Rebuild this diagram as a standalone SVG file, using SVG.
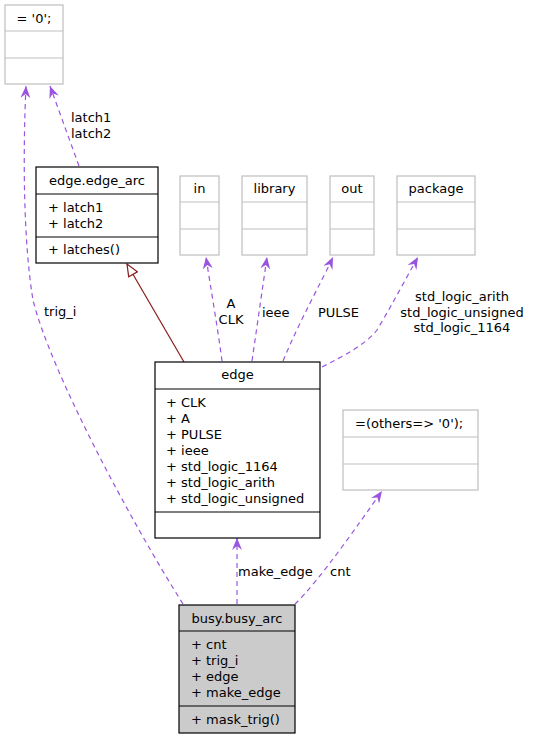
<svg xmlns="http://www.w3.org/2000/svg" width="533" height="741" viewBox="0 0 533 741">
<defs>
<style>
text{font-family:"DejaVu Sans","Liberation Sans",sans-serif;font-size:13px;fill:#000}
.c{text-anchor:middle}
.bk{fill:#fff;stroke:#000;stroke-width:1.2}
.gr{fill:#fff;stroke:#bfbfbf;stroke-width:1.2}
.gy{fill:#cbcbcb;stroke:#000;stroke-width:1.2}
.dk{stroke:#000;stroke-width:1.2}
.lg{stroke:#bfbfbf;stroke-width:1.2}
.u{fill:none;stroke:#9a55de;stroke-width:1.2;stroke-dasharray:5,4;marker-end:url(#av)}
.inh{fill:none;stroke:#8b1a1a;stroke-width:1.2;marker-end:url(#tri)}
</style>
<marker id="av" viewBox="0 0 12 10" refX="12" refY="5" markerWidth="12" markerHeight="10" markerUnits="userSpaceOnUse" orient="auto">
<path d="M0,0 L12,5 L0,10 L4,5 z" fill="#9a55de"/>
</marker>
<marker id="tri" viewBox="0 0 14 12" refX="13" refY="6" markerWidth="14" markerHeight="12" markerUnits="userSpaceOnUse" orient="auto">
<path d="M1,1 L13,6 L1,11 z" fill="#fff" stroke="#8b1a1a" stroke-width="1.2"/>
</marker>
</defs>

<g id="connectors">
<path class="u" d="M183,604 C130,520 50,370 33,300 C23,240 23,150 26,86"/>
<text x="44" y="316">trig_i</text>
<path class="u" d="M79,166 L50,86"/>
<text x="71" y="122">latch1</text>
<text x="71" y="138">latch2</text>
<path class="inh" d="M184,362 L127,264"/>
<path class="u" d="M222,361 C218,330 211,290 206,257"/>
<text class="c" x="231" y="308">A</text>
<text class="c" x="231" y="324">CLK</text>
<path class="u" d="M252,361 L267,257"/>
<text x="262" y="317">ieee</text>
<path class="u" d="M283,361 C300,320 320,285 333,257"/>
<text x="318" y="317">PULSE</text>
<path class="u" d="M322,367 C345,355 365,345 377,330 C392,305 405,280 418,257"/>
<text class="c" x="462" y="301">std_logic_arith</text>
<text class="c" x="462" y="317">std_logic_unsigned</text>
<text class="c" x="462" y="332">std_logic_1164</text>
<path class="u" d="M237,604 L237,538"/>
<text x="238" y="576">make_edge</text>
<path class="u" d="M295,604 C320,580 360,522 382,491"/>
<text x="330" y="576">cnt</text>
</g>

<g id="n_zero">
<rect class="gr" x="5" y="5" width="58" height="79"/>
<line class="lg" x1="5" y1="31" x2="63" y2="31"/>
<line class="lg" x1="5" y1="58" x2="63" y2="58"/>
<text class="c" x="34" y="23">= '0';</text>
</g>

<g id="n_edge_arc">
<rect class="bk" x="36" y="167" width="122" height="96"/>
<line class="dk" x1="36" y1="194" x2="158" y2="194"/>
<line class="dk" x1="36" y1="237" x2="158" y2="237"/>
<text class="c" x="97" y="185">edge.edge_arc</text>
<text x="48" y="212">+ latch1</text>
<text x="48" y="228">+ latch2</text>
<text x="48" y="254">+ latches()</text>
</g>

<g id="n_in">
<rect class="gr" x="180" y="176" width="39" height="79"/>
<line class="lg" x1="180" y1="202" x2="219" y2="202"/>
<line class="lg" x1="180" y1="229" x2="219" y2="229"/>
<text class="c" x="199.5" y="193">in</text>
</g>

<g id="n_library">
<rect class="gr" x="242" y="176" width="65" height="79"/>
<line class="lg" x1="242" y1="202" x2="307" y2="202"/>
<line class="lg" x1="242" y1="229" x2="307" y2="229"/>
<text class="c" x="274.5" y="193">library</text>
</g>

<g id="n_out">
<rect class="gr" x="330" y="176" width="44" height="79"/>
<line class="lg" x1="330" y1="202" x2="374" y2="202"/>
<line class="lg" x1="330" y1="229" x2="374" y2="229"/>
<text class="c" x="352" y="193">out</text>
</g>

<g id="n_package">
<rect class="gr" x="397" y="176" width="78" height="79"/>
<line class="lg" x1="397" y1="202" x2="475" y2="202"/>
<line class="lg" x1="397" y1="229" x2="475" y2="229"/>
<text class="c" x="436" y="193">package</text>
</g>

<g id="n_edge">
<rect class="bk" x="155" y="362" width="165" height="176"/>
<line class="dk" x1="155" y1="389" x2="320" y2="389"/>
<line class="dk" x1="155" y1="512" x2="320" y2="512"/>
<text class="c" x="237.5" y="379">edge</text>
<text x="166" y="407">+ CLK</text>
<text x="166" y="423">+ A</text>
<text x="166" y="439">+ PULSE</text>
<text x="166" y="455">+ ieee</text>
<text x="166" y="471">+ std_logic_1164</text>
<text x="166" y="487">+ std_logic_arith</text>
<text x="166" y="503">+ std_logic_unsigned</text>
</g>

<g id="n_others">
<rect class="gr" x="343" y="410" width="135" height="80"/>
<line class="lg" x1="343" y1="437" x2="478" y2="437"/>
<line class="lg" x1="343" y1="464" x2="478" y2="464"/>
<text x="355" y="428">=(others=&gt; '0');</text>
</g>

<g id="n_busy">
<rect class="gy" x="179" y="605" width="116" height="128"/>
<line class="dk" x1="179" y1="631" x2="295" y2="631"/>
<line class="dk" x1="179" y1="706" x2="295" y2="706"/>
<text class="c" x="237" y="623">busy.busy_arc</text>
<text x="191" y="649">+ cnt</text>
<text x="191" y="665">+ trig_i</text>
<text x="191" y="681">+ edge</text>
<text x="191" y="697">+ make_edge</text>
<text x="191" y="724">+ mask_trig()</text>
</g>
</svg>
